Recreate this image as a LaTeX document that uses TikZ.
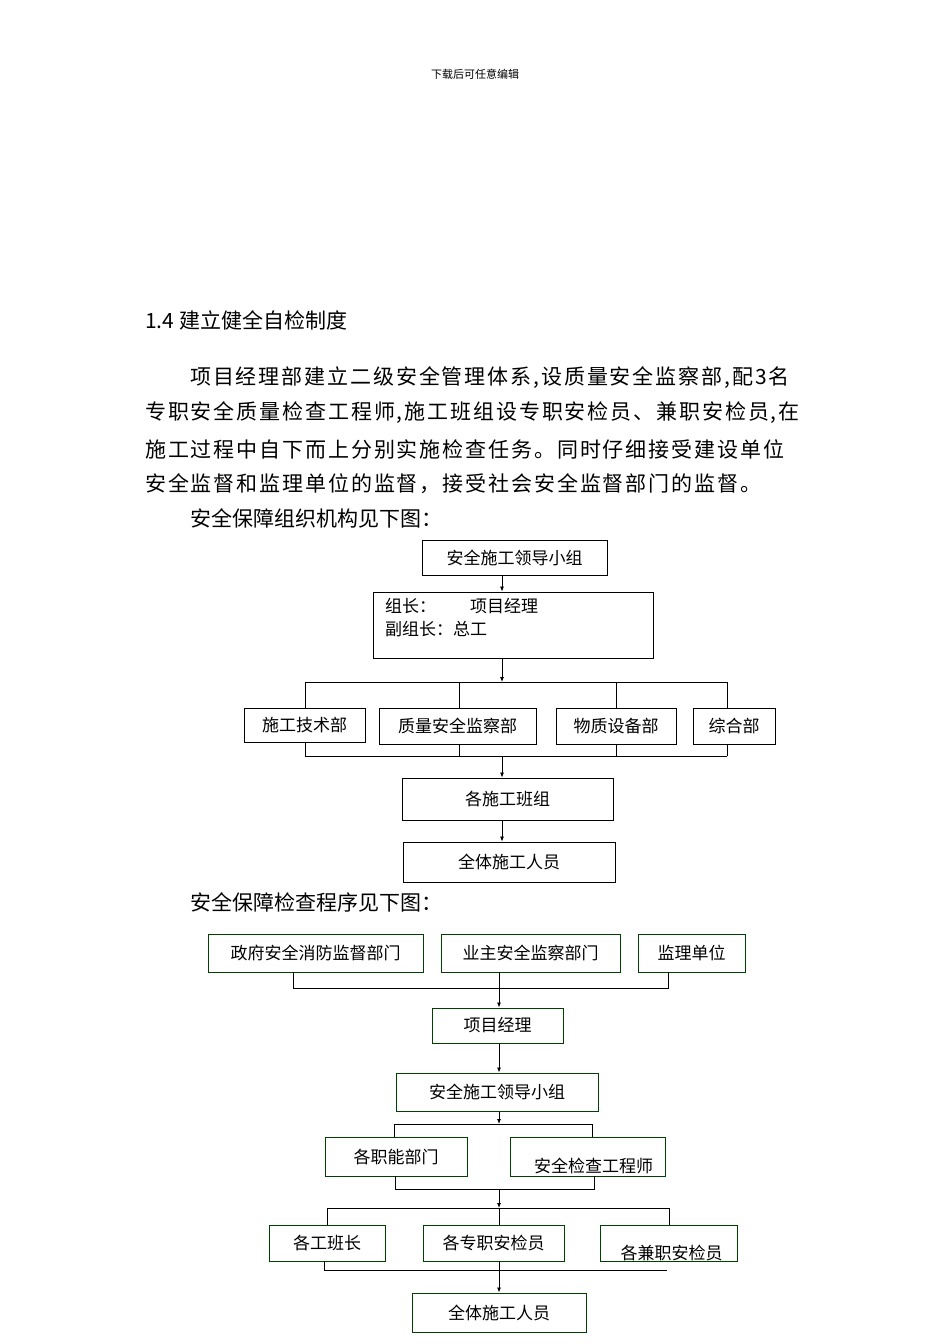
\documentclass[tikz,border=0pt]{standalone}
\usepackage{fontspec}
\usetikzlibrary{arrows.meta}
\setmainfont{Noto Sans CJK SC}
\newfontfamily\spaced[LetterSpace=9]{Noto Sans CJK SC}
\begin{document}
\begin{tikzpicture}[x=1pt,y=-1pt,
  bx/.style={draw=black,line width=0.9pt,inner sep=0pt,font=\fontsize{17}{19}\selectfont},
  gx/.style={draw=green!25!black,line width=1pt,inner sep=0pt,font=\fontsize{17}{19}\selectfont},
  wrap/.style={inner sep=0pt,font=\fontsize{17}{19}\selectfont,align=center},
  ln/.style={line width=0.8pt},
  ar/.style={line width=0.8pt,-{Latex[length=5pt,width=4pt]}},
  para/.style={anchor=west,inner sep=0pt,font=\fontsize{21}{24}\selectfont},
  sp/.style={anchor=west,inner sep=0pt,font=\fontsize{21}{24}\spaced}]
\useasboundingbox (0,0) rectangle (950,1344);
\node[font=\fontsize{11}{12}\selectfont] (hd) at (475,74) {下载后可任意编辑};
\node[para] (h) at (145,320) {1.4 建立健全自检制度};
\node[sp] (p1) at (190,378) {项目经理部建立二级安全管理体系,设质量安全监察部,配3名};
\node[sp] (p2) at (145,413) {专职安全质量检查工程师,施工班组设专职安检员、兼职安检员,在};
\node[sp] (p3) at (145,449) {施工过程中自下而上分别实施检查任务。同时仔细接受建设单位};
\node[sp] (p4) at (145,484) {安全监督和监理单位的监督，接受社会安全监督部门的监督。};
\node[para] (p5) at (190,518) {安全保障组织机构见下图：};
\node[para] (p6) at (190,902) {安全保障检查程序见下图：};
% upper chart
\node[bx,minimum width=185pt,minimum height=35pt] (a1) at (514.5,557.5) {安全施工领导小组};
\node[bx,minimum width=280pt,minimum height=66pt] (a2) at (513,625) {};
\node[anchor=north west,inner sep=0pt,font=\fontsize{17}{23}\selectfont,align=left] (a2t) at (385,598) {组长：\hspace{2em}项目经理\\副组长：总工};
\node[bx,minimum width=121pt,minimum height=34pt] (d1) at (304.5,725) {施工技术部};
\node[bx,minimum width=157pt,minimum height=36pt] (d2) at (457.5,726) {质量安全监察部};
\node[bx,minimum width=120pt,minimum height=36pt] (d3) at (616,726) {物质设备部};
\node[bx,minimum width=82pt,minimum height=36pt] (d4) at (734,726) {综合部};
\node[bx,minimum width=211pt,minimum height=42pt] (a3) at (507.5,799) {各施工班组};
\node[bx,minimum width=212pt,minimum height=40pt] (a4) at (509,862) {全体施工人员};
\coordinate (t1) at (502,682); \coordinate (t2) at (502,756);
\draw[ar] (a1.south -| t1) -- (a2.north -| t1);
\draw[ar] (a2.south -| t1) -- (t1);
\draw[ln] (305,682) -- (727,682);
\draw[ln] (305,682) -- (305,708) (459,682) -- (459,708) (616,682) -- (616,708) (727,682) -- (727,708);
\draw[ln] (305,742) -- (305,756) (459,744) -- (459,756) (616,744) -- (616,756) (727,744) -- (727,756);
\draw[ln] (305,756) -- (727,756);
\draw[ar] (t2) -- (a3.north -| t2);
\draw[ar] (a3.south -| t2) -- (a4.north -| t2);
% lower chart
\node[gx,minimum width=215pt,minimum height=38pt] (b1) at (315.5,953) {政府安全消防监督部门};
\node[gx,minimum width=179pt,minimum height=38pt] (b2) at (530.5,953) {业主安全监察部门};
\node[gx,minimum width=107pt,minimum height=38pt] (b3) at (691.5,953) {监理单位};
\node[gx,minimum width=131pt,minimum height=35pt] (c1) at (497.5,1025.5) {项目经理};
\node[gx,minimum width=202pt,minimum height=38pt] (c2) at (497,1092) {安全施工领导小组};
\node[gx,minimum width=142pt,minimum height=39pt] (e1) at (396,1156.5) {各职能部门};
\node[gx,minimum width=155pt,minimum height=39pt] (e2) at (587.5,1156.5) {};
\node[wrap,text width=110pt] (e2t) at (589,1166) {安全检查工程师};
\node[gx,minimum width=116pt,minimum height=36pt] (f1) at (327,1243) {各工班长};
\node[gx,minimum width=141pt,minimum height=36pt] (f2) at (493.5,1243) {各专职安检员};
\node[gx,minimum width=137pt,minimum height=36pt] (f3) at (668.5,1243) {};
\node[wrap,text width=95pt] (f3t) at (668,1253) {各兼职安检员};
\node[gx,minimum width=174pt,minimum height=39pt] (g1) at (499,1312.5) {全体施工人员};
\coordinate (u1) at (499,988); \coordinate (u2) at (499,1124); \coordinate (u3) at (499,1189); \coordinate (u4) at (499,1208); \coordinate (u5) at (499,1270);
\draw[ln] (293,972) -- (293,988) -- (668,988) -- (668,972) (499,972) -- (u1);
\draw[ar] (u1) -- (c1.north -| u1);
\draw[ar] (c1.south -| u1) -- (c2.north -| u1);
\draw[ar] (c2.south -| u2) -- (u2);
\draw[ln] (394,1137) -- (394,1124) -- (592,1124) -- (592,1137);
\draw[ln] (395,1176) -- (395,1189) -- (594,1189) -- (594,1176);
\draw[ar] (u3) -- (u4);
\draw[ln] (327,1225) -- (327,1208) -- (669,1208) -- (669,1225) (u4) -- (499,1225);
\draw[ln] (324,1261) -- (324,1270) -- (667,1270) (499,1261) -- (u5);
\draw[ar] (u5) -- (g1.north -| u5);
\end{tikzpicture}
\end{document}
